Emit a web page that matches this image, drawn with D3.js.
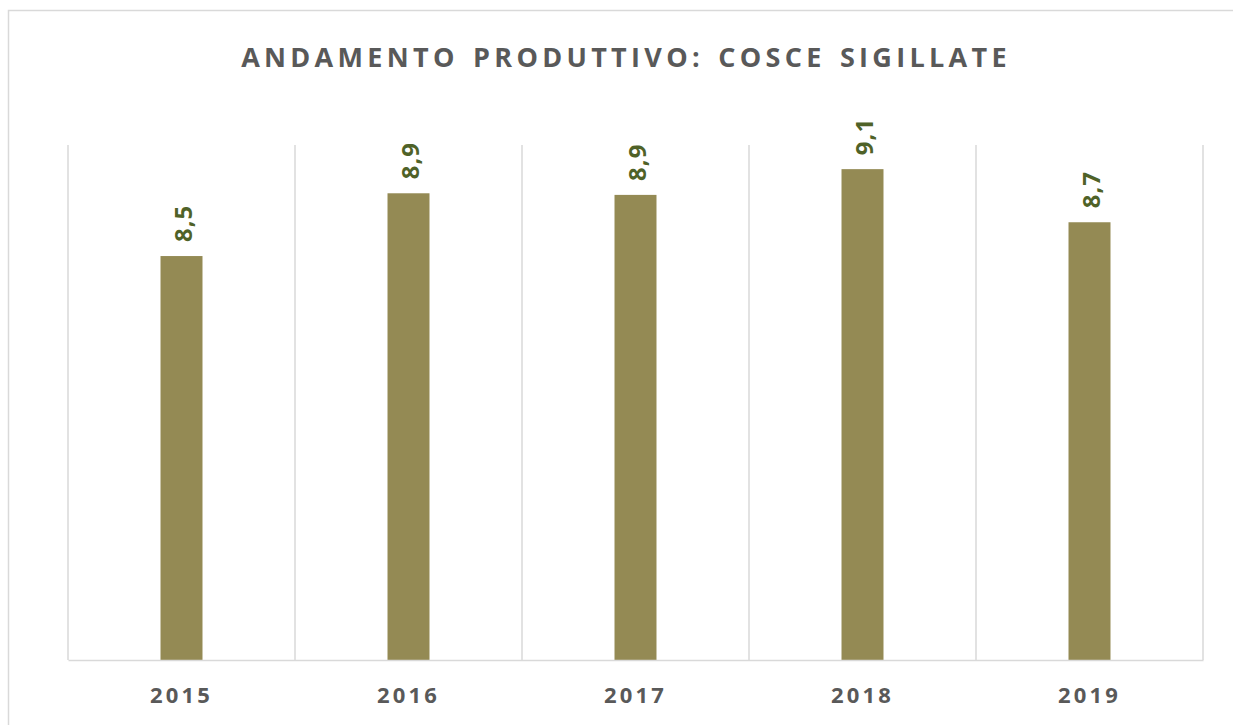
<!DOCTYPE html>
<html>
<head>
<meta charset="utf-8">
<script src="https://d3js.org/d3.v7.min.js"></script>
<style>
  body { margin: 0; background: #fff; }
  text { font-family: "Open Sans", sans-serif; }
</style>
</head>
<body>
<div id="main"></div>
<script>
var years = ["2015", "2016", "2017", "2018", "2019"];
var values = [8.51, 8.90, 8.89, 9.05, 8.72];
var titleText = "ANDAMENTO PRODUTTIVO: COSCE SIGILLATE";

var width = 1233, height = 725;
var marginTop = 145, marginLeft = 68, marginRight = 30, marginBottom = 65;
var innerWidth = width - marginLeft - marginRight;
var innerHeight = height - marginTop - marginBottom;

var itLocale = d3.formatLocale({decimal: ",", thousands: ".", grouping: [3], currency: ["", " €"]});
var fmt = itLocale.format(".1f");

var svg = d3.select("#main")
    .append("svg")
    .attr("width", width)
    .attr("height", height);

// chart border (runs off the right and bottom of the picture)
svg.append("rect")
    .attr("x", 8.5)
    .attr("y", 10.5)
    .attr("width", width + 20)
    .attr("height", height + 20)
    .attr("fill", "none")
    .attr("stroke", "#d9d9d9")
    .attr("stroke-width", 1.5);

svg.append("text")
    .attr("x", 626)
    .attr("y", 67)
    .attr("text-anchor", "middle")
    .attr("font-size", 27)
    .attr("font-weight", "bold")
    .attr("letter-spacing", 4.3)
    .attr("word-spacing", 3)
    .attr("fill", "#595959")
    .text(titleText);

var g = svg.append("g")
    .attr("transform", "translate(" + marginLeft + "," + marginTop + ")");

var xScale = d3.scaleBand().domain(years).range([0, innerWidth]).padding(0);
var yScale = d3.scaleLinear().domain([6, 9.2]).range([innerHeight, 0]);

// vertical gridlines at category boundaries
var bounds = years.map(d => xScale(d)).concat([innerWidth]);
g.selectAll(".grid")
    .data(bounds)
    .enter()
    .append("line")
    .attr("class", "grid")
    .attr("x1", d => d)
    .attr("x2", d => d)
    .attr("y1", 0)
    .attr("y2", innerHeight)
    .attr("stroke", "#d9d9d9")
    .attr("stroke-width", 1.5);

var barW = xScale.bandwidth() * 0.185;

g.selectAll(".bar")
    .data(values)
    .enter()
    .append("rect")
    .attr("class", "bar")
    .attr("x", (d, i) => xScale(years[i]) + xScale.bandwidth() / 2 - barW / 2)
    .attr("y", d => yScale(d))
    .attr("width", barW)
    .attr("height", d => innerHeight - yScale(d))
    .attr("fill", "#948a54");

g.selectAll(".lbl")
    .data(values)
    .enter()
    .append("text")
    .attr("class", "lbl")
    .attr("transform", (d, i) => "translate(" + (xScale(years[i]) + xScale.bandwidth() / 2 + 10) + "," + (yScale(d) - 14) + ") rotate(-90)")
    .attr("font-size", 24)
    .attr("font-weight", "bold")
    .attr("letter-spacing", 1)
    .attr("fill", "#4f6228")
    .text(d => fmt(d));

// x axis
var xAxisG = g.append("g")
    .attr("transform", "translate(0," + innerHeight + ")")
    .call(d3.axisBottom(xScale).tickSize(0).tickPadding(0));

xAxisG.select(".domain")
    .attr("stroke", "#d9d9d9")
    .attr("stroke-width", 1.5);

xAxisG.selectAll("text")
    .attr("y", 43)
    .attr("dy", 0)
    .attr("font-family", "Open Sans, sans-serif")
    .attr("font-size", 22)
    .attr("font-weight", "bold")
    .attr("letter-spacing", 3.2)
    .attr("fill", "#595959");
</script>
</body>
</html>
